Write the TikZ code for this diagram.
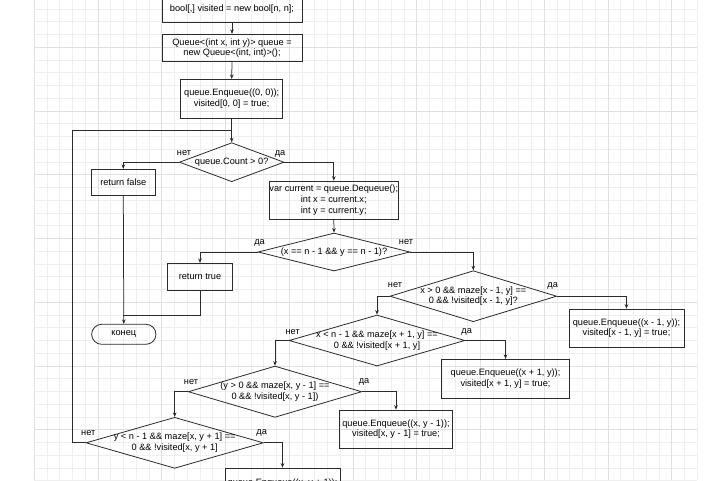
\documentclass[tikz,border=0pt]{standalone}
\usepackage{fontspec}
\setmainfont{Liberation Sans}
\usetikzlibrary{shapes.geometric,arrows.meta,calc}
\definecolor{gminor}{HTML}{EFEFEF}
\definecolor{gmajor}{HTML}{E0E0E0}
\definecolor{ink}{HTML}{2B2B2B}
\begin{document}
\begin{tikzpicture}[x=1pt,y=-1pt,
  font=\fontsize{9.2}{10.6}\selectfont,
  ln/.style={draw=ink, line width=0.75pt},
  arr/.style={ln,-{Stealth[length=4.5pt,width=3.6pt]}},
  box/.style={draw=ink, line width=0.8pt, rectangle, inner sep=0pt, align=center, text=black},
  dec/.style={draw=ink, line width=0.8pt, diamond, inner sep=0pt},
  dtext/.style={align=center, inner sep=0pt, text=black},
  yn/.style={inner sep=0pt, text=black}
]
\path[use as bounding box] (0,0) rectangle (720,480);
\clip (0,0) rectangle (720,480);
\fill[white] (0,0) rectangle (720,480);
% grid
\foreach \i in {0,...,52} {\draw[gminor, line width=0.6pt] ({34.2+12.75*\i},0) -- ({34.2+12.75*\i},480);}
\foreach \j in {0,...,38} {\draw[gminor, line width=0.6pt] (34.2,{-3.95+12.75*\j}) -- (697.2,{-3.95+12.75*\j});}
\foreach \i in {0,...,10} {\draw[gmajor, line width=0.6pt] ({34.2+63.75*\i},0) -- ({34.2+63.75*\i},480);}
\foreach \j in {1,...,7} {\draw[gmajor, line width=0.6pt] (34.2,{-16.7+63.75*\j}) -- (697.2,{-16.7+63.75*\j});}

% nodes
\node[box, minimum width=140pt, minimum height=27.3pt] (b1) at (232,8.7) {bool[,] visited = new bool[n, n];};
\node[box, minimum width=140pt, minimum height=27.4pt] (b2) at (232,48) {Queue<(int x, int y)> queue =\\new Queue<(int, int)>();};
\node[box, minimum width=102pt, minimum height=39pt] (b3) at (231.7,98.8) {queue.Enqueue((0, 0));\\visited[0, 0] = true;};

\node[dec, minimum width=104.7pt, minimum height=39pt] (d1) at (231.7,162.2) {};
\node[dtext] (d1t) at (d1.center) {queue.Count > 0?};

\node[box, minimum width=63.3pt, minimum height=25.7pt] (rf) at (123.3,182.2) {return false};
\node[box, minimum width=129pt, minimum height=38.3pt] (b4) at (333.8,200.2) {var current = queue.Dequeue();\\int x = current.x;\\int y = current.y;};

\node[dec, minimum width=152pt, minimum height=38pt] (d2) at (334,252) {};
\node[dtext] (d2t) at (d2.center) {(x == n - 1 \&\& y == n - 1)?};

\node[box, minimum width=65.4pt, minimum height=26.7pt] (rt) at (200,276.7) {return true};
\node[box, minimum width=64.3pt, minimum height=20pt, rounded corners=10pt] (end) at (123.8,334.3) {конец};

\node[dec, minimum width=166.7pt, minimum height=51pt] (d3) at (473.3,296.2) {};
\node[dtext] (d3t) at (d3.center) {x > 0 \&\& maze[x - 1, y] ==\\0 \&\& !visited[x - 1, y]?};
\node[box, minimum width=115pt, minimum height=38.3pt] (b5) at (626.5,328.2) {queue.Enqueue((x - 1, y));\\visited[x - 1, y] = true;};

\node[dec, minimum width=175.7pt, minimum height=51pt] (d4) at (377,340.5) {};
\node[dtext] (d4t) at (d4.center) {x < n - 1 \&\& maze[x + 1, y] ==\\0 \&\& !visited[x + 1, y]};
\node[box, minimum width=127.6pt, minimum height=39pt] (b6) at (505.5,378.8) {queue.Enqueue((x + 1, y));\\visited[x + 1, y] = true;};

\node[dec, minimum width=173.4pt, minimum height=51.3pt] (d5) at (275,391.7) {};
\node[dtext] (d5t) at (d5.center) {(y > 0 \&\& maze[x, y - 1] ==\\0 \&\& !visited[x, y - 1])};
\node[box, minimum width=112.4pt, minimum height=38.3pt] (b7) at (396,429.2) {queue.Enqueue((x, y - 1));\\visited[x, y - 1] = true;};

\node[dec, minimum width=177.3pt, minimum height=51pt] (d6) at (174.7,442.8) {};
\node[dtext] (d6t) at (d6.center) {y < n - 1 \&\& maze[x, y + 1] ==\\0 \&\& !visited[x, y + 1]};
\node[box, minimum width=115pt, minimum height=38.3pt] (b8) at (282.5,487.2) {};
\node[dtext, anchor=base] (b8t) at (282.5,485.6) {queue.Enqueue((x, y + 1));};

% yes/no labels
\node[yn] (l1n) at (184,153.5) {нет};
\node[yn] (l1y) at (280,153.5) {да};
\node[yn] (l2y) at (259.5,242.5) {да};
\node[yn] (l2n) at (406,242.5) {нет};
\node[yn] (l3n) at (395,285.5) {нет};
\node[yn] (l3y) at (552.7,286) {да};
\node[yn] (l4n) at (292.7,331.7) {нет};
\node[yn] (l4y) at (466.7,331.7) {да};
\node[yn] (l5n) at (191,381.7) {нет};
\node[yn] (l5y) at (364,382) {да};
\node[yn] (l6n) at (88.3,433.3) {нет};
\node[yn] (l6y) at (261.7,433.3) {да};

% helper coordinates
\coordinate (j) at (231.7,130);
\coordinate (lp) at (72.5,130);
\coordinate (jm) at (123.3,315);

% connectors
\draw[arr] (b1.south) -- (b2.north);
\draw[arr] (b2.south) -- (b3.north);
\draw[arr] (b3.south) -- (d1.north);
\draw[ln] (d6.west) -| (lp) -- (j);
\draw[arr] (d1.west) -| (rf.north);
\draw[arr] (d1.east) -| (b4.north);
\draw[arr] (b4.south) -- (d2.north);
\draw[arr] (d2.west) -| (rt.north);
\draw[arr] (d2.east) -| (d3.north);
\draw[arr] (rf.south) -- (end.north);
\draw[ln] (rt.south) |- (jm);
\draw[arr] (d3.east) -| (b5.north);
\draw[arr] (d3.west) -| (d4.north);
\draw[arr] (d4.east) -| (b6.north);
\draw[arr] (d4.west) -| (d5.north);
\draw[arr] (d5.east) -| (b7.north);
\draw[arr] (d5.west) -| (d6.north);
\draw[arr] (d6.east) -| (b8.north);
\end{tikzpicture}
\end{document}
